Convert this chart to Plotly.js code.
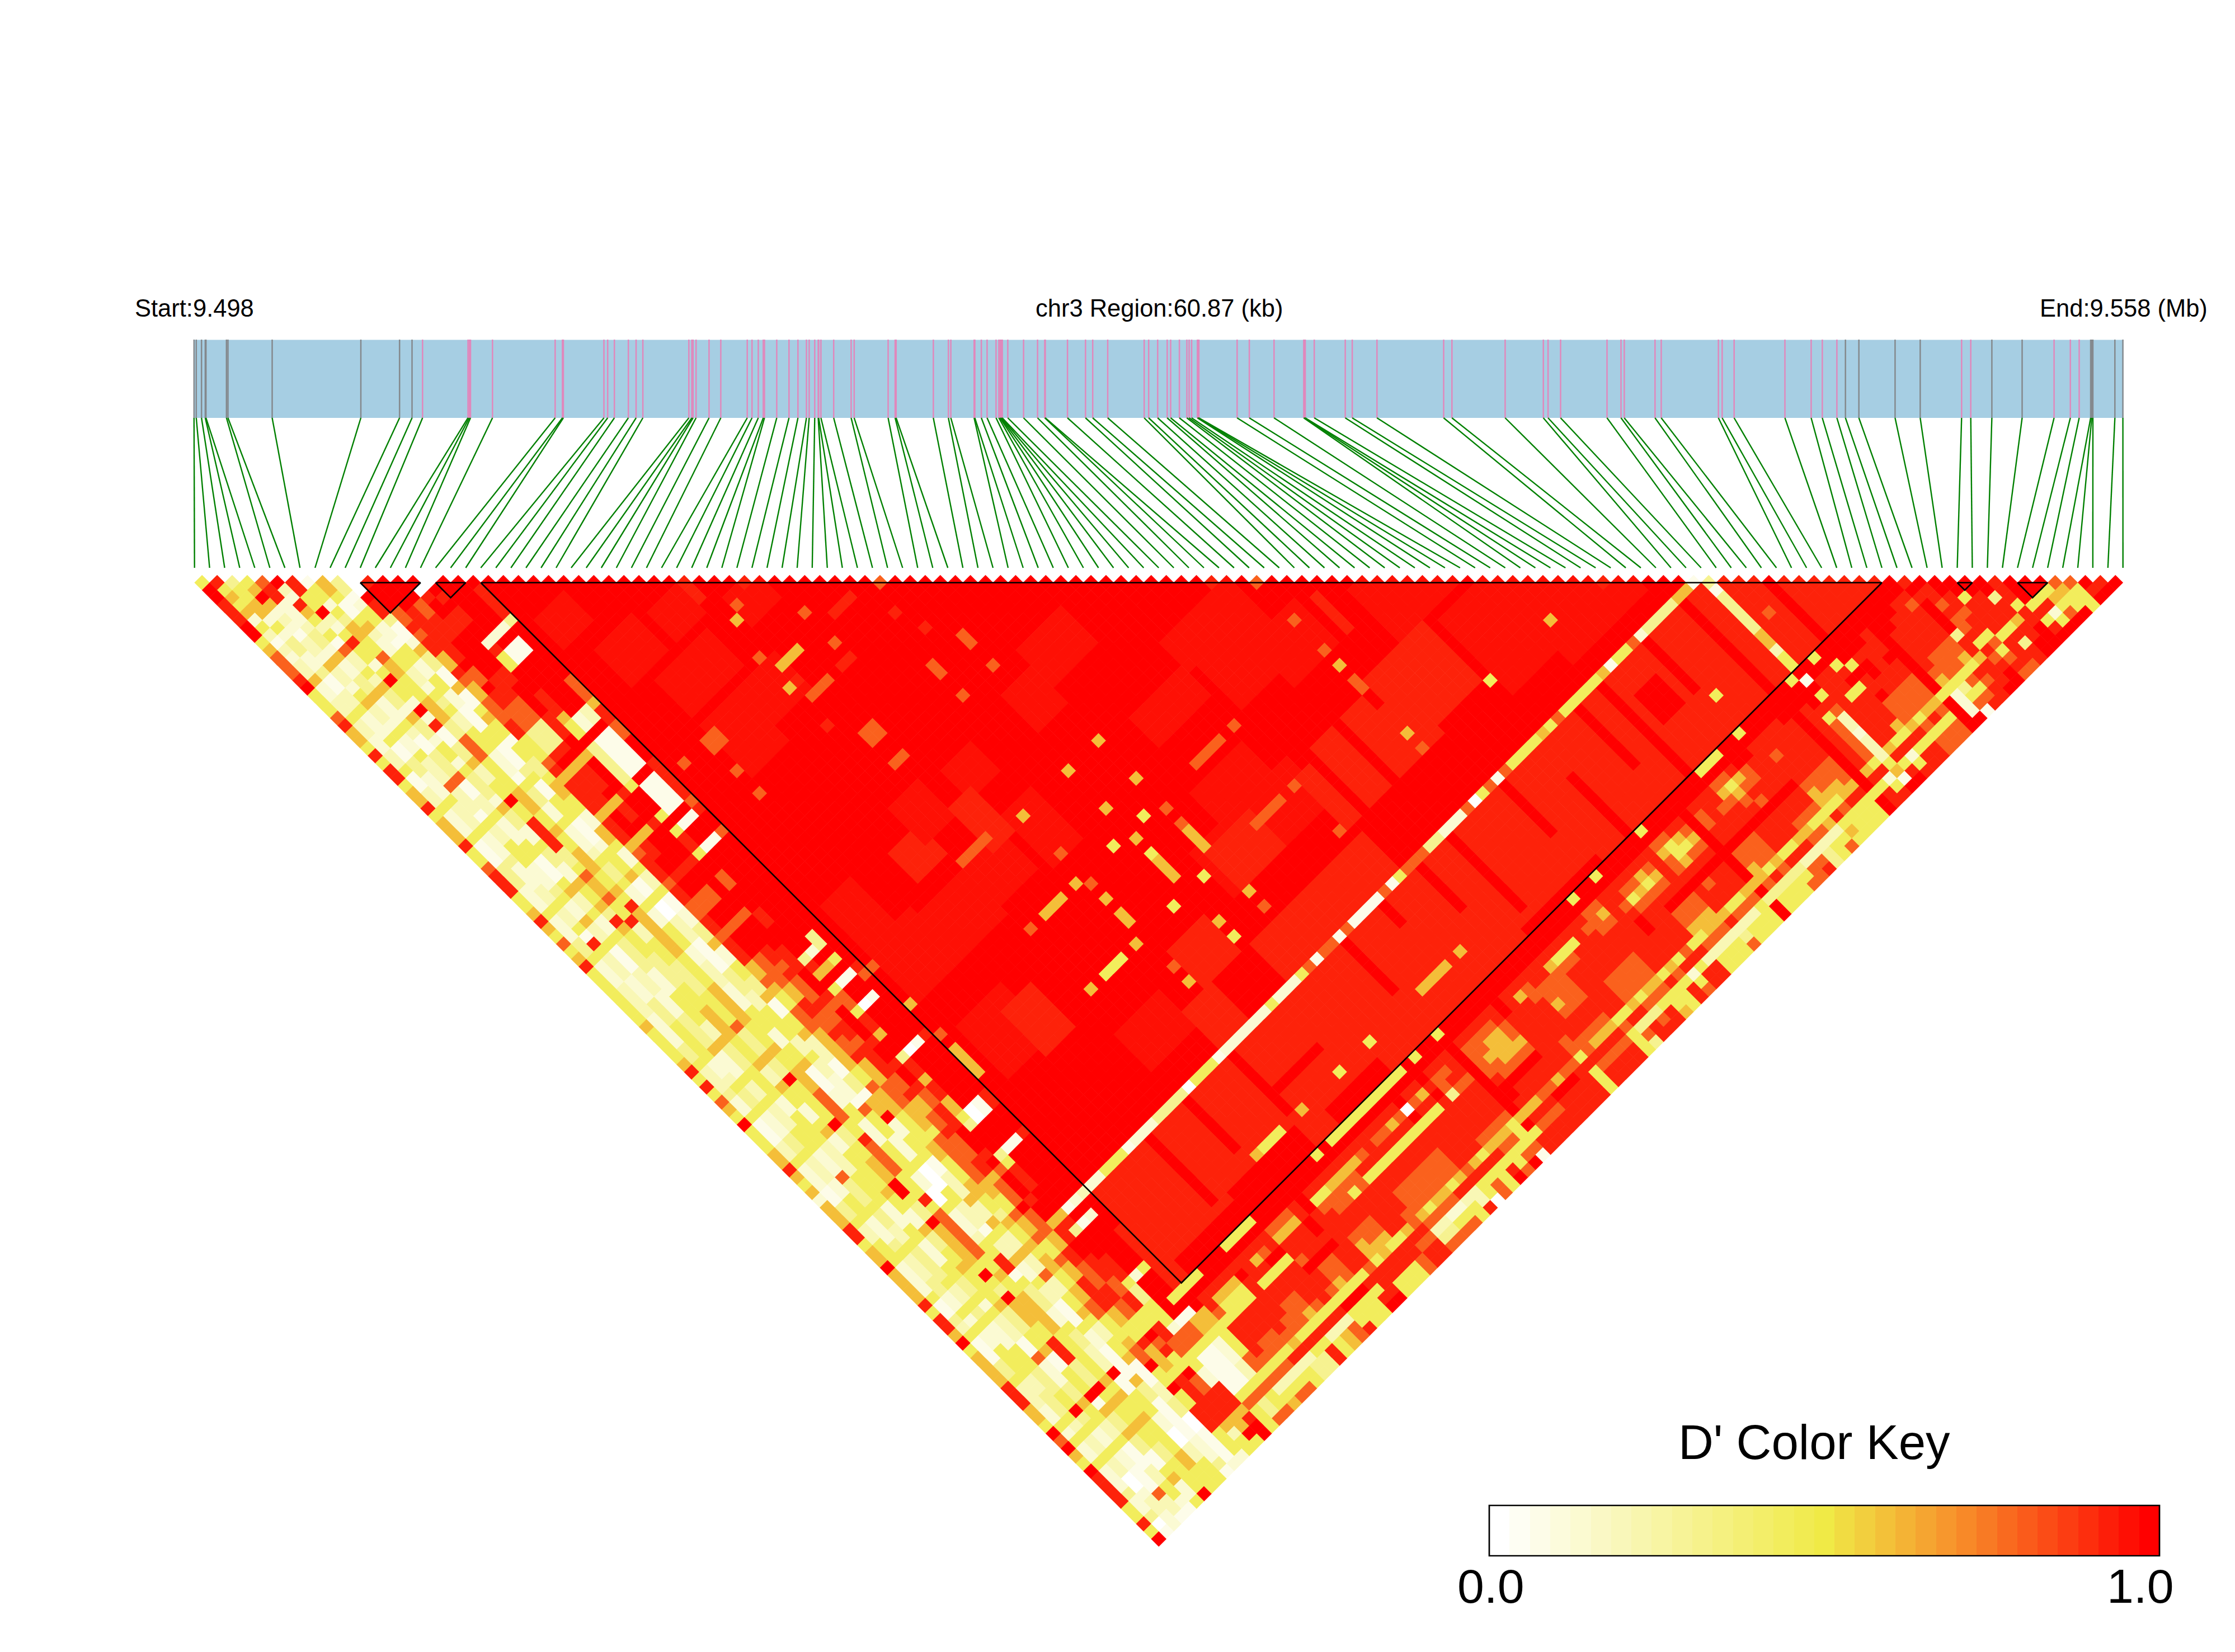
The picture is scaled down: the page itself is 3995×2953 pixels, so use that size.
<!DOCTYPE html>
<html>
<head>
<meta charset="utf-8">
<script src="https://cdn.plot.ly/plotly-3.0.1.min.js"></script>
<style>html,body{margin:0;padding:0;background:#fff}</style>
</head>
<body>
<div id="chart" style="width:3995px;height:2953px"></div>
<script>
// SNP positions along the physical track
const snpTrack = [346.8,350.8,360.2,366.9,368.2,404.8,407.5,486.5,645,714.2,736.5,755.3,836.5,838.8,841,880.3,992.3,1005.3,1007,
1079.5,1086.2,1098.2,1123.2,1137,1149.1,1231.3,1236.6,1238.8,1244.2,1267.4,1288.4,1335.7,1344.2,1355.4,1364.3,1366.5,1388.4,1410.3,1426.3,1441.5,
1446.4,1456.3,1462.5,1463.4,1467.4,1490.2,1521.4,1526.8,1587.5,1600,1601.8,1668.3,1695.2,1699.6,1741.2,1742.5,1754.1,1764.4,1780.4,1785.4,
1787.6,1788.9,1790.3,1791.6,1801.4,1829.6,1854.6,1867.5,1868.4,1908.1,1940.3,1953.2,1980,2045.2,2053.2,2069.3,2086.3,2092.5,2108.1,2121.5,
2125.5,2130,2140.3,2141.6,2143,2211.3,2233.1,2277.3,2330.4,2331.8,2333.1,2349.2,2404.6,2417.1,2461.3,2580.5,2595.3,2690.4,2758.7,2767.1,
2789.5,2872.5,2897.5,2903.3,2958.3,2969.4,3071.6,3078.3,3099.7,3190.5,3237.4,3257.3,3283.4,3298.7,3322.7,3387.4,3432.3,3506.3,3522.7,3560.4,
3614.5,3671.6,3700.7,3716.5,3737,3739,3741,3780.3,3794.6];

// LD blocks: first and last SNP of each outlined triangle
const blocks = [[11,15],[16,18],[19,112],[117,118],[121,123]];

// code -> D' estimate (code 10 is the faint step just below full red)
const levels = [0,0.06,0.12,0.2,0.3,0.44,0.6,0.8,0.93,1,0.968];

// SNPs 0..18: "firstPartner:code" runs along each row of the matrix
const leftRows = [
"1:5 2:9 4:8 7:9 9:5 10:6 11:7 14:8 15:9 16:5 19:7 20:8 21:6 23:5 24:8 25:5 26:8 28:5 29:6 31:8 32:5 33:6 36:8 37:5 39:7 40:8 43:5 45:6 46:8 47:6 48:5 49:7 50:5 51:6 52:8 53:5 60:6 61:5 65:6 66:8 67:5 68:8 69:5 70:7 71:6 72:5 73:9 74:5 77:6 79:8 80:6 81:5 82:6 83:2 84:6 87:8 89:5 90:6 92:9 93:6 97:8 98:5 99:8 101:6 102:9 103:5 104:6 108:8 111:6 113:5 114:9 115:7 116:9 117:6 118:5 119:9 120:8 124:5 126:8 127:5 128:9",
"2:8 3:5 4:6 5:5 6:6 7:2 8:5 9:3 10:1 11:3 12:2 13:3 15:6 16:2 18:3 20:5 21:3 23:2 25:3 27:5 28:1 30:3 32:5 33:2 36:5 37:1 40:4 43:2 46:5 47:2 50:4 52:5 53:2 56:3 60:2 64:4 66:5 67:3 70:4 71:2 73:5 74:1 77:3 79:5 80:2 83:1 85:4 87:5 88:3 90:5 92:5 93:2 97:5 98:1 100:4 101:3 102:5 103:1 106:4 108:5 109:3 112:2 114:5 115:2 116:5 117:2 119:5 120:2 123:4 124:2 126:4 127:0 128:1",
"3:4 4:5 6:6 8:2 9:5 10:2 11:4 13:2 15:4 16:1 18:3 20:5 21:2 24:5 25:1 27:4 29:2 32:5 33:3 36:5 37:2 40:4 41:2 44:3 46:5 47:3 49:5 50:1 51:8 52:5 53:3 56:2 59:4 62:5 65:5 67:2 69:3 70:5 71:4 73:5 74:2 77:4 79:5 80:3 83:2 85:5 87:5 88:2 91:4 92:5 93:3 96:4 98:2 100:5 101:2 102:5 103:2 105:5 108:5 109:3 111:4 114:5 115:3 116:5 117:3 119:5 120:3 122:0 124:2 125:3 127:2",
"4:5 5:6 6:9 7:6 8:2 9:3 10:2 11:1 12:3 14:2 15:6 16:3 18:2 19:5 20:6 21:3 23:2 24:5 25:2 27:5 28:3 31:7 32:3 35:1 36:5 37:3 39:5 41:5 42:2 45:4 46:5 47:2 49:6 50:3 52:5 53:1 56:3 59:2 62:4 66:6 67:2 70:5 71:3 73:5 74:3 77:5 79:5 80:2 83:7 84:4 87:5 88:4 90:3 92:5 93:4 97:5 98:3 100:5 101:4 102:5 103:2 106:5 108:5 109:4 112:5 114:9 115:4 116:5 117:2 119:5 120:2 122:1 125:7 126:3 128:1",
"5:7 6:8 8:2 11:3 12:4 14:2 15:6 16:2 18:4 20:6 21:2 24:5 25:3 26:1 28:4 31:7 32:1 34:3 36:5 37:2 40:5 42:1 45:5 46:6 47:3 49:5 50:2 52:5 53:4 57:2 60:5 64:3 66:6 67:4 70:5 73:5 74:2 76:5 79:5 80:3 82:3 84:5 87:5 88:2 91:5 92:5 93:2 96:5 97:5 98:4 100:5 101:2 102:5 103:3 106:1 108:7 109:2 112:4 114:6 115:5 116:5 117:3 119:5 120:1 123:3 125:5 127:2 128:1",
"6:9 7:3 8:2 9:8 10:6 11:5 12:3 13:5 14:1 15:7 16:3 18:5 19:3 20:6 21:4 23:2 24:6 25:4 27:2 28:5 30:2 31:5 32:4 35:2 36:6 37:4 39:2 41:5 42:4 44:2 46:6 47:5 49:6 50:4 51:8 52:6 53:5 56:4 60:5 63:6 66:6 67:5 70:6 71:3 73:6 74:5 76:2 78:5 79:6 80:2 82:5 87:6 88:5 90:2 92:6 93:4 95:5 97:6 98:5 100:5 102:6 103:4 106:5 108:6 109:1 111:5 114:9 115:1 116:6 117:4 119:6 120:4 122:1 124:5 125:6 126:2 128:5",
"7:8 9:5 11:9 12:3 13:2 14:5 15:8 16:5 18:2 19:5 20:9 21:5 23:2 24:9 25:2 26:8 27:1 29:4 31:6 32:3 34:5 36:9 37:5 39:8 43:4 45:5 46:7 47:6 49:7 50:5 52:8 53:3 55:5 58:4 62:5 66:7 67:4 70:6 71:4 73:9 74:5 79:9 80:4 82:5 84:6 87:9 89:5 90:4 92:9 93:6 97:6 98:5 99:9 100:5 101:4 102:9 103:6 106:5 108:8 111:4 114:9 115:5 116:6 117:5 119:6 120:5 122:4 124:5 128:9",
"8:1 9:5 11:2 12:5 13:4 14:6 15:6 16:5 18:7 19:6 20:6 21:5 24:6 25:6 27:4 29:7 32:5 36:6 37:6 39:5 41:6 42:5 44:6 46:6 47:5 49:6 50:5 51:8 52:6 53:6 58:5 62:6 65:6 67:5 70:6 71:5 73:6 74:6 76:7 80:5 82:8 83:7 87:5 90:8 91:5 92:7 98:5 100:6 101:5 103:6 108:5 114:6 115:5 116:6 117:5 119:6 120:5 124:6 126:5",
"9:6 11:5 12:1 14:5 15:6 16:3 17:2 19:5 20:5 21:3 23:2 24:5 25:4 26:5 27:3 29:5 31:5 32:2 35:1 36:5 37:4 39:2 41:5 42:2 45:3 46:5 47:4 49:5 50:2 52:5 53:2 55:5 58:2 60:3 63:2 66:5 67:5 69:2 71:5 73:6 74:1 77:2 79:5 80:5 81:2 84:5 87:5 88:2 90:0 92:5 93:2 96:3 97:5 98:5 99:8 101:1 102:5 103:4 106:2 108:5 109:4 111:3 114:9 115:1 117:5 119:5 120:2 122:0 124:3 126:5",
"10:4 12:1 13:2 14:5 16:2 18:1 19:5 20:5 21:2 23:5 24:5 25:2 27:1 30:5 31:5 32:1 35:4 36:5 37:1 39:5 41:5 42:1 45:2 46:5 47:5 49:6 50:1 52:5 53:0 55:3 58:1 62:4 65:3 67:5 70:5 71:3 73:5 74:3 76:2 79:1 80:7 81:5 84:2 87:5 88:0 91:5 92:5 93:3 96:1 97:5 98:3 100:6 101:2 103:5 104:3 106:1 109:5 110:2 112:1 115:1 116:6 117:4 119:1 122:1 124:2 127:4 128:1",
"11:0 13:9 14:8 16:4 17:1 19:2 20:6 21:4 23:1 25:6 26:1 28:5 29:6 30:5 32:1 33:5 35:4 37:5 38:6 40:5 42:2 44:6 46:5 47:2 49:5 50:3 52:5 53:1 55:2 57:4 59:6 60:2 62:5 64:4 66:6 67:1 69:5 71:6 72:3 75:1 77:4 79:1 80:6 82:9 83:2 85:5 87:5 88:1 90:3 93:6 94:3 96:6 97:5 98:3 100:6 101:3 103:7 104:3 106:5 108:6 109:5 110:3 112:5 114:6 115:1 118:3 120:4 122:0 124:1 126:1 128:2",
"12:8 13:9 16:7 18:8 19:7 20:8 22:6 24:8 25:7 26:6 28:7 31:8 33:5 36:7 37:8 38:6 39:8 43:6 44:8 47:6 48:7 49:8 52:7 53:8 55:7 57:8 59:7 60:8 63:6 65:7 66:6 67:5 69:7 72:6 76:6 77:5 79:7 80:6 83:5 87:6 88:6 89:5 92:6 94:5 96:4 97:6 98:5 100:6 101:5 102:6 104:5 106:6 108:7 110:5 113:6 114:7 116:9 117:5 119:9 120:5 122:8 125:5 128:2",
"13:9 16:9 17:8 22:8 24:9 25:7 27:9 28:8 30:7 33:4 36:8 37:9 38:6 39:8 43:6 44:9 47:6 48:8 50:9 52:8 53:9 55:7 57:9 59:7 60:9 63:7 67:6 69:8 71:7 73:8 74:7 76:8 77:6 80:7 83:6 86:5 87:7 88:7 92:7 93:6 95:5 97:7 98:6 100:7 101:5 103:7 104:6 106:8 110:6 112:5 114:8 115:6 118:5 119:8 125:6 126:3 127:5",
"14:9 17:7 19:8 22:9 27:8 30:7 33:4 36:8 37:9 38:6 39:8 42:9 43:6 44:8 46:9 47:6 48:9 52:8 53:9 55:7 57:9 59:7 60:9 63:8 65:7 66:8 67:7 70:8 71:7 73:8 75:7 76:8 80:7 82:8 83:6 85:7 87:8 88:7 91:8 93:6 94:7 97:9 98:7 101:6 103:8 105:7 108:8 110:7 112:5 114:9 115:7 116:8 117:5 119:9 120:7 122:8 125:6 127:9 128:5",
"15:9 16:0 17:8 18:9 20:8 22:9 27:8 29:9 33:8 36:9 38:6 39:9 43:8 44:9 47:8 48:9 52:8 53:9 59:7 60:9 64:8 67:9 70:8 71:7 72:9 76:8 77:9 79:8 80:9 82:8 83:7 85:8 88:9 91:8 92:9 93:7 94:9 97:8 98:9 100:6 101:8 103:9 105:8 108:7 110:8 112:5 114:8 116:7 118:5 120:2 122:8 125:6 126:8 127:9",
"16:0 17:9 18:8 19:9 20:8 22:9 24:2 25:8 26:5 28:9 31:8 34:6 35:5 37:9 38:4 43:5 44:9 47:5 48:9 49:5 50:8 52:5 53:9 55:7 57:9 60:8 62:9 66:4 67:8 68:6 69:9 70:5 71:7 73:5 74:8 76:6 77:9 79:4 80:8 82:6 83:8 85:6 87:5 88:4 89:9 92:4 93:5 94:8 97:9 100:6 101:8 102:4 103:9 106:8 109:5 110:4 112:5 115:2 116:7 118:5 119:1 122:1 124:5 125:7 126:5",
"17:9 24:2 25:9 26:1 28:9 35:2 37:9 38:1 43:9 44:1 48:9 49:1 50:9 52:1 53:9 66:2 67:9 68:6 69:9 70:1 71:9 73:0 74:9 79:0 80:9 87:0 89:9 92:1 93:9 100:1 101:9 102:1 103:9 109:2 110:9 115:1 116:7 118:5 119:1 122:1 124:5 125:7 126:4 128:7",
"18:9 24:2 25:9 26:1 28:9 35:3 37:9 38:1 43:9 44:1 48:9 49:1 50:9 52:1 53:9 65:4 67:9 68:5 69:9 70:1 71:9 73:1 74:9 79:1 80:9 87:1 89:9 92:1 93:9 100:2 101:9 102:2 103:9 109:5 110:9 113:5 114:9 115:1 116:6 118:5 119:2 122:3 124:5 125:7 126:5 128:7",
"19:9 20:8 24:4 25:9 32:7 35:6 36:8 38:7 40:9 43:8 48:7 49:8 50:9 52:7 53:9 70:8 71:7 72:9 79:8 80:9 87:8 89:9 92:8 93:9 100:3 101:9 105:8 110:8 113:5 114:9 116:6 118:5 122:7 124:5 125:7 126:3 127:5 128:6"
];

// SNPs 19..112: codes for partners 113..128
const rightRows = [
"5988758888757357","5986558887757357","9986558887758355","9986558888768344","9989888887758544","5988858877758588","5986858877658355","5987958888758366",
"5988958888858377","9976887988759558","9976888977659555","9976888977759555","9988998988858589","9999888888878889","9985788876658855","9985778877668855",
"9986778877658855","5986758888858877","9986778888868788","5986858888778788","5987858877767347","5988858877757347","5987858877767257","5987858877767257",
"5986858877758355","5987858877768338","5990958888878550","5987858888868577","5986858888858555","9998988888768589","5987748888767557","9987878888767579",
"9988878888755571","5999999999969588","9987777899868788","9987767798868788","9987666798878788","9987666798879888","9988776798869888","9999888888879888",
"9988888888878888","9986888887758555","9987788888778788","9988776788768788","9988777788768788","9986777788768788","9985788888857555","9985788888858474",
"9985888877768488","9988888877757478","9987888877767588","5977788877767556","9976788888858555","9988888888867588","5988789988858257","9987578888878588",
"9987678888858388","9986578977657355","9987678977667355","9988888977667355","5976778988868347","9975568978857355","9986578988857355","9987678988867555",
"9999999999969499","9987788977667455","9988888977758455","9988788977767455","5976788988858457","5975678988858377","5986787988868378","9997788988767344",
"9998888988757355","5988888988756357","9988788876658565","9988888877657555","9988888877668555","9998888877768555","9999999999999599","9998888888868588",
"5999857777758258","9195873323335619","9988888888868589","5988858888858258","9958958888658588","9995988977768588","9998998877757577","9998888877768577",
"9988898877767577","9999999999959999","9999888887652229","9998888877754571","9988888877757578","9987888877658788"
];

// SNPs 113..127: codes for partners up to 128
const tailRows = ["898999948868889","98878778587899","9988788575787","995888858887","99888858488","9948868899","888588999","99958589","9958259","956579","76559","7555","989","89","9"];

// Patches inside the large block: [firstRow,lastRow,firstPartner,lastPartner,code]
const patchesSoft = [
[20,23,26,29,10],[22,26,32,36,10],[24,30,38,42,10],[28,33,44,48,10],[24,28,44,50,10],[34,37,37,40,10],[28,31,33,36,10],[32,32,33,35,8],
[40,42,45,45,8],[44,44,49,49,8],[45,45,52,52,8],[53,59,72,75,10],[60,68,69,72,10],[61,68,72,78,10],[26,31,71,76,10],[28,31,65,68,8],[32,36,71,75,10],
[52,58,81,85,10],[48,55,85,90,10],[50,55,60,64,10],[46,49,62,66,10],[37,40,63,66,10],[31,34,62,66,10],[35,37,66,71,8],[38,41,70,76,10],
[20,23,64,70,10],[20,25,70,76,10],[21,26,81,87,10],[25,28,83,88,8],[31,36,92,96,10],[37,40,95,99,8],[40,44,90,94,8],[46,52,95,99,8],
[66,71,75,80,10],[55,60,85,90,10],[49,54,86,90,8],[60,65,87,93,8],[67,72,88,93,8],[71,78,85,92,8],[73,73,76,80,8],[63,69,86,93,8],[50,60,95,99,8],
[80,87,86,95,10],[76,84,78,84,10],[86,95,88,97,10],[19,99,101,112,8],[93,111,101,112,8]
];
const patchesRed = [
[52,52,101,107,9],[66,66,86,110,9],[73,73,101,107,9],[83,83,97,108,9],[92,92,101,107,9],[97,97,101,112,9],[31,31,101,107,9],[37,37,101,108,9],[26,26,101,109,9],
[38,43,106,106,9],[40,46,111,112,9],[28,36,110,112,9],[20,27,111,112,9],[54,62,94,94,9],[62,62,86,106,9],[104,104,105,112,9],[88,90,104,107,9],
[78,78,105,112,9],[57,57,101,103,9],[86,86,101,112,9],[106,108,101,104,9],[65,74,112,112,9]
];
const patchesDots = [
[38,38,43,43,7],[38,38,47,47,7],[33,35,45,45,6],[32,32,43,43,7],[37,38,49,49,8],[43,43,55,56,7],[47,47,55,56,7],[47,47,59,59,7],[33,35,49,49,7],[32,32,47,47,6],[33,33,47,47,8],
[34,35,55,56,7],[43,43,59,59,7],[34,35,59,59,7],[32,32,52,52,8],[23,23,52,52,7],[45,45,71,71,6],[39,39,71,71,6],[47,47,79,79,5],[45,45,76,76,6],[49,49,71,71,6],[49,49,76,76,6],
[49,49,80,80,7],[49,49,82,82,7],[49,49,83,85,6],[45,45,80,80,6],[43,43,79,79,5],[45,45,82,82,5],[45,45,83,85,6],[47,47,87,87,5],[39,39,76,76,7],[32,35,70,70,7],[38,38,79,79,6],[39,39,80,80,7],
[39,39,82,82,6],[39,39,84,85,6],[34,36,79,79,6],[32,32,79,79,7],[43,43,87,87,5],[49,49,91,91,6],[45,45,91,91,6],[45,45,93,93,5],[49,49,93,93,7],[38,38,87,87,6],[34,36,87,87,5],[32,32,87,87,6],
[39,39,91,91,7],[39,39,93,93,6],[19,19,71,71,7],[19,19,76,76,6],[19,19,80,80,7],[19,19,82,82,6],[19,19,83,85,6],[70,70,76,76,7],[70,70,71,71,7],[59,59,87,87,7],[54,57,87,87,7],[59,59,79,79,7],[54,57,79,79,7],
[87,87,93,93,6],[79,79,93,93,5],[70,70,80,80,7],[70,70,82,82,6],[70,70,84,85,7],[70,70,91,91,6],[70,70,93,93,7],[59,59,93,93,7],[54,57,109,109,6],[59,59,109,109,6],[47,47,109,109,5],[43,43,109,109,5],
[32,32,109,109,6],[33,35,109,109,5],[38,38,109,109,6],[93,93,109,109,5],[102,102,107,107,7],[20,20,45,45,7],[23,23,49,49,7],[23,24,45,46,7],[34,34,38,38,7],[33,33,39,39,6],
[36,36,37,37,8],[45,45,46,46,7],[67,67,68,68,8],[70,70,71,71,7],[93,93,94,94,8]
];
// Column of SNP 100 and the row of SNP 100 inside the block
const patchesStripe = [
[19,99,100,100,7],[19,20,100,100,2],[21,23,100,100,5],[24,24,100,100,1],[25,27,100,100,2],[28,31,100,100,4],[32,32,100,100,0],[33,35,100,100,5],[36,36,100,100,1],[37,42,100,100,2],[43,43,100,100,5],
[44,46,100,100,2],[47,47,100,100,5],[49,49,100,100,1],[52,52,100,100,1],[54,57,100,100,1],[59,59,100,100,1],[60,60,100,100,5],[64,65,100,100,4],[66,67,100,100,2],[68,68,100,100,2],[70,70,100,100,0],
[71,71,100,100,5],[73,73,100,100,1],[75,78,100,100,5],[79,79,100,100,6],[80,80,100,100,5],[82,82,100,100,5],[83,86,100,100,5],[87,87,100,100,6],[88,88,100,100,1],[89,90,100,100,5],[92,92,100,100,2],
[93,96,100,100,4],[97,98,100,100,6],[99,99,100,100,1],
[100,100,101,101,4],[100,100,102,102,1],[100,100,103,107,4],[100,100,108,109,6],[100,100,110,110,3],[100,100,111,112,5]
];

const codeOf = {};
function put(i,j,c){ codeOf[i+'_'+j]=c; }
leftRows.forEach((row,i)=>{
  const runs=row.split(' ').map(s=>s.split(':').map(Number));
  runs.forEach((r,k)=>{
    const end=k+1<runs.length?runs[k+1][0]:129;
    for(let j=r[0];j<end;j++) if(j>i) put(i,j,r[1]);
  });
});
for(let i=19;i<=112;i++) for(let j=i+1;j<=112;j++) put(i,j,9);
[patchesSoft,patchesRed,patchesStripe,patchesDots].forEach(list=>list.forEach(p=>{
  for(let i=p[0];i<=p[1];i++) for(let j=p[2];j<=p[3];j++) if(j>i) put(i,j,p[4]);
}));
rightRows.forEach((row,k)=>{ for(let m=0;m<16;m++) put(19+k,113+m,+row[m]); });
tailRows.forEach((row,k)=>{ const i=113+k; for(let m=0;m<row.length;m++) put(i,i+1+m,+row[m]); });

const trackLeft=347.7, step=26.93, rowTop=1041.5, rowStep=13.46;
const cx=[],cy=[],cv=[];
for(let d=1;d<=128;d++){
  for(let i=0;i+d<=128;i++){
    const j=i+d;
    const c=codeOf[i+'_'+j];
    cx.push(trackLeft+step*(i+j)/2);
    cy.push(rowTop+rowStep*(d-1));
    cv.push(levels[c===undefined?9:c]);
  }
}
const ramp=[[0,'#FFFFFF'],[0.5,'#F0EA46'],[0.7,'#F7922B'],[1,'#FF0000']];

function inBlock(i){ return blocks.some(b=>i>=b[0]&&i<=b[1]); }
const pinkX=[],pinkY=[],greyX=[],greyY=[],linkX=[],linkY=[];
snpTrack.forEach((x,i)=>{
  const tx=inBlock(i)?pinkX:greyX, ty=inBlock(i)?pinkY:greyY;
  tx.push(x,x,null); ty.push(607,747.5,null);
  linkX.push(x,trackLeft+step*i,null); linkY.push(747,1015,null);
});
const boxX=[],boxY=[];
blocks.forEach(b=>{
  const a=trackLeft+step*b[0], z=trackLeft+step*b[1];
  boxX.push(a,z,(a+z)/2,a,null);
  boxY.push(rowTop,rowTop,rowTop+rowStep*(b[1]-b[0]),rowTop,null);
});

// Colour key
const keyBins=33, keyEdges=[], keyZ=[];
for(let k=0;k<=keyBins;k++) keyEdges.push(2662+k*(3860-2662)/keyBins);
for(let k=0;k<keyBins;k++) keyZ.push(k/(keyBins-1));

const traces=[
 {type:'scatter',mode:'lines',x:greyX,y:greyY,line:{color:'#84898D',width:2.5},hoverinfo:'skip'},
 {type:'scatter',mode:'lines',x:pinkX,y:pinkY,line:{color:'#E088BC',width:2.5},hoverinfo:'skip'},
 {type:'scatter',mode:'lines',x:linkX,y:linkY,line:{color:'#008000',width:2.4},hoverinfo:'skip'},
 {type:'scatter',mode:'markers',x:cx,y:cy,marker:{symbol:'diamond',size:21.2,color:cv,cmin:0,cmax:1,colorscale:ramp,showscale:false,line:{width:0}},hoverinfo:'skip'},
 {type:'scatter',mode:'lines',x:boxX,y:boxY,line:{color:'#000000',width:2.7},hoverinfo:'skip'},
 {type:'heatmap',x:keyEdges,y:[2691,2781],z:[keyZ],zmin:0,zmax:1,colorscale:ramp,showscale:false,hoverinfo:'skip'}
];
const font=(s)=>({family:'"Liberation Sans",Arial,sans-serif',size:s,color:'#000'});
const note=(t,x,y,s)=>({text:t,x:x,y:y,xref:'x',yref:'y',showarrow:false,xanchor:'center',yanchor:'middle',font:font(s)});
const layout={
 width:3995,height:2953,margin:{l:0,r:0,t:0,b:0},paper_bgcolor:'#fff',plot_bgcolor:'#fff',showlegend:false,hovermode:false,
 xaxis:{range:[0,3995],visible:false,fixedrange:true},
 yaxis:{range:[2953,0],visible:false,fixedrange:true},
 shapes:[
  {type:'rect',xref:'x',yref:'y',x0:347,x1:3795,y0:607.5,y1:747,fillcolor:'#A6CEE3',line:{width:0},layer:'below'},
  {type:'rect',xref:'x',yref:'y',x0:2662,x1:3860,y0:2691,y1:2781,fillcolor:'rgba(0,0,0,0)',line:{color:'#000',width:2.7},layer:'above'}
 ],
 annotations:[
  note('Start:9.498',347,551,43.5),
  note('chr3 Region:60.87 (kb)',2072,551,43.5),
  note('End:9.558 (Mb)',3796,551,43.5),
  note("D' Color Key",3243,2577,87),
  note('0.0',2665,2835,86),
  note('1.0',3826,2835,86)
 ]
};
Plotly.newPlot('chart',traces,layout,{displayModeBar:false,responsive:false,staticPlot:true});
</script>
</body>
</html>
